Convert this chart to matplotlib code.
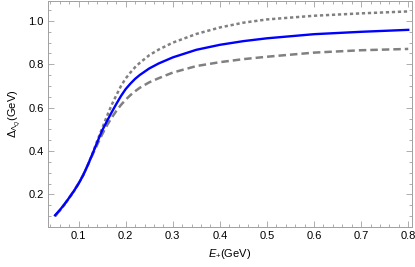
import numpy as np
import matplotlib
matplotlib.use('Agg')
import matplotlib.pyplot as plt
from matplotlib.ticker import MultipleLocator

plt.rcParams['font.family'] = ['Liberation Sans', 'DejaVu Sans']
plt.rcParams['mathtext.fontset'] = 'custom'
plt.rcParams['mathtext.rm'] = 'Liberation Sans'
plt.rcParams['mathtext.it'] = 'Liberation Sans:italic'

# values
e_plus = [0.05, 0.06, 0.07, 0.08, 0.09, 0.10, 0.11, 0.12, 0.13, 0.14, 0.15, 0.16,
          0.17, 0.18, 0.19, 0.20, 0.21, 0.22, 0.23, 0.25, 0.27, 0.30, 0.35, 0.40,
          0.45, 0.50, 0.60, 0.70, 0.80]
d_blue = [0.104, 0.128, 0.155, 0.185, 0.216, 0.25, 0.29, 0.338, 0.39, 0.443, 0.495, 0.537,
          0.578, 0.617, 0.654, 0.686, 0.711, 0.733, 0.751, 0.781, 0.804, 0.832, 0.867, 0.890,
          0.907, 0.920, 0.939, 0.950, 0.959]
d_dot = [0.10, 0.126, 0.153, 0.183, 0.215, 0.25, 0.29, 0.338, 0.392, 0.45, 0.505, 0.56,
         0.612, 0.657, 0.70, 0.735, 0.762, 0.787, 0.807, 0.842, 0.868, 0.900, 0.940, 0.970,
         0.992, 1.007, 1.024, 1.035, 1.044]
d_dash = [0.10, 0.127, 0.155, 0.185, 0.217, 0.252, 0.292, 0.338, 0.385, 0.432, 0.477, 0.518,
          0.553, 0.585, 0.613, 0.637, 0.658, 0.676, 0.692, 0.717, 0.736, 0.762, 0.792, 0.810,
          0.824, 0.835, 0.854, 0.865, 0.871]

fig = plt.figure(figsize=(4.15, 2.67), dpi=100)
ax = fig.add_axes([48/415, 1 - 227/267, (412-48)/415, 226/267])

ax.plot(e_plus, d_dot, color='#808080', lw=1.8, ls=(0, (1.3, 1.1)), dash_capstyle='butt')
ax.plot(e_plus, d_dash, color='#808080', lw=1.8, ls=(0, (3.0, 1.6)), dash_capstyle='butt')
ax.plot(e_plus, d_blue, color='#0000ff', lw=1.7)

ax.set_xlim(0.035, 0.808)
ax.set_ylim(0.05, 1.092)
ax.xaxis.set_major_locator(MultipleLocator(0.1))
ax.xaxis.set_minor_locator(MultipleLocator(0.02))
ax.yaxis.set_major_locator(MultipleLocator(0.2))
ax.yaxis.set_minor_locator(MultipleLocator(0.05))
ax.set_xticks([0.1, 0.2, 0.3, 0.4, 0.5, 0.6, 0.7, 0.8])
ax.set_xticklabels(['0.1', '0.2', '0.3', '0.4', '0.5', '0.6', '0.7', '0.8'])
ax.set_yticks([0.2, 0.4, 0.6, 0.8, 1.0])
ax.set_yticklabels(['0.2', '0.4', '0.6', '0.8', '1.0'])

ax.tick_params(which='both', direction='in', top=True, right=True, color='#a0a0a0',
               labelsize=8, width=0.6, pad=3)
ax.tick_params(which='major', length=4)
ax.tick_params(which='minor', length=2)
for s in ax.spines.values():
    s.set_color('#a0a0a0')
    s.set_linewidth(0.7)

ax.set_xlabel(r'$E_{+}$(GeV)', fontsize=8, labelpad=4)
ax.set_ylabel(r'$\Delta_{\Lambda_Q}$(GeV)', fontsize=8, labelpad=4)

fig.savefig('out.png', dpi=100)
